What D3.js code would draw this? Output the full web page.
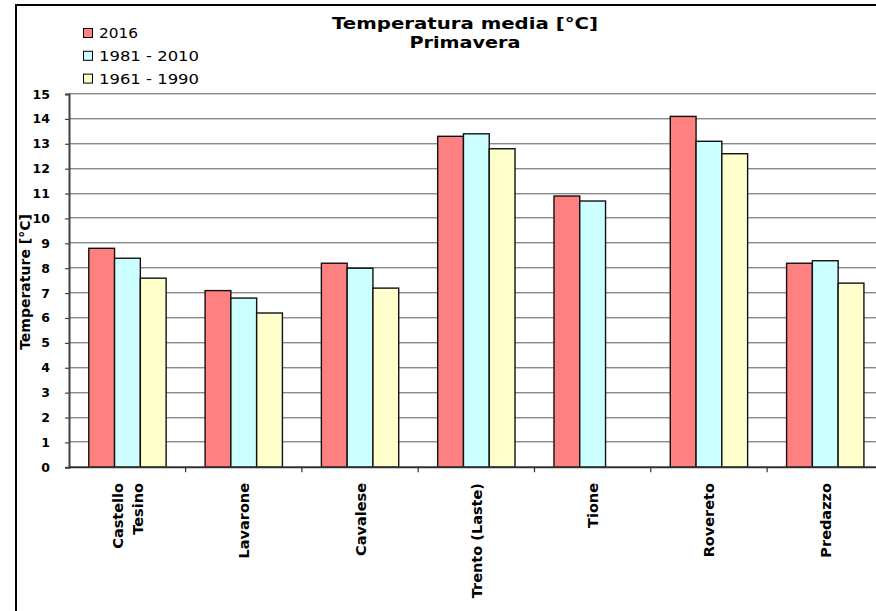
<!DOCTYPE html>
<html>
<head>
<meta charset="utf-8">
<script src="https://cdn.jsdelivr.net/npm/d3@7"></script>
<style>
  html, body { margin: 0; padding: 0; background: #fff; }
  svg { display: block; }
  text { font-family: "DejaVu Sans", Verdana, sans-serif; fill: #000; }
</style>
</head>
<body>
<svg id="chart" width="876" height="611"></svg>
<script>
// ---- data ----
const categories = ["Castello\nTesino", "Lavarone", "Cavalese", "Trento (Laste)", "Tione", "Rovereto", "Predazzo"];
const seriesNames = ["2016", "1981 - 2010", "1961 - 1990"];
const values2016 = [8.8, 7.1, 8.2, 13.3, 10.9, 14.1, 8.2];
const values8110 = [8.4, 6.8, 8.0, 13.4, 10.7, 13.1, 8.3];
const values6190 = [7.6, 6.2, 7.2, 12.8, null, 12.6, 7.4];
const yTicks = [0, 1, 2, 3, 4, 5, 6, 7, 8, 9, 10, 11, 12, 13, 14, 15];
const titleLines = ["Temperatura media [°C]", "Primavera"];
const yAxisTitle = "Temperature [°C]";

const colors = ["#FF8080", "#CCFFFF", "#FFFFCC"];
const seriesValues = [values2016, values8110, values6190];

const svg = d3.select("#chart");

// outer frame (cropped at right and bottom)
svg.append("rect").attr("x", 16).attr("y", 5).attr("width", 900).attr("height", 700)
  .attr("fill", "#fff").attr("stroke", "#000").attr("stroke-width", 2);

// scales
const x0 = d3.scaleBand().domain(categories).range([69.3, 883.4])
  .paddingInner(0.335).paddingOuter(0.1675);
const x1 = d3.scaleBand().domain(d3.range(seriesNames.length)).range([0, x0.bandwidth()]).padding(0);
const y = d3.scaleLinear().domain([0, 15]).range([467.3, 94]);

// gridlines
const grid = svg.append("g");
yTicks.filter(t => t > 0).forEach(t => {
  const yy = Math.round(y(t));
  grid.append("line").attr("x1", 69).attr("x2", 876).attr("y1", yy - 0.5).attr("y2", yy - 0.5)
    .attr("stroke", "#8a8a8a").attr("stroke-width", 1);
  grid.append("line").attr("x1", 69).attr("x2", 876).attr("y1", yy + 0.5).attr("y2", yy + 0.5)
    .attr("stroke", "#cfcfcf").attr("stroke-width", 1);
});

// bars
const groups = svg.append("g").selectAll("g").data(categories).join("g")
  .attr("transform", d => `translate(${x0(d)},0)`);
groups.selectAll("rect")
  .data((d, i) => seriesValues.map((s, k) => ({ k, v: s[i] })).filter(o => o.v != null))
  .join("rect")
  .attr("x", d => x1(d.k))
  .attr("width", x1.bandwidth())
  .attr("y", d => y(d.v))
  .attr("height", d => y(0) - y(d.v))
  .attr("fill", d => colors[d.k])
  .attr("stroke", "#111")
  .attr("stroke-width", 1.4);

// y axis
const yAxis = d3.axisLeft(y).tickValues(yTicks).tickSize(4).tickPadding(15).tickFormat(d3.format("d"));
const gy = svg.append("g").attr("transform", "translate(69,0)").call(yAxis);
gy.select(".domain").attr("stroke", "#404040").attr("stroke-width", 2);
gy.selectAll(".tick line").attr("stroke", "#404040").attr("stroke-width", 1.2);
gy.selectAll(".tick text").attr("font-family", "DejaVu Sans, sans-serif")
  .attr("font-size", "12.5px").attr("font-weight", "bold").attr("fill", "#000");

// x axis line and ticks at band boundaries
const step = x0.step();
const xStart = x0.range()[0];
svg.append("line").attr("x1", 69).attr("x2", 876).attr("y1", y(0)).attr("y2", y(0))
  .attr("stroke", "#303030").attr("stroke-width", 2);
d3.range(1, categories.length + 1).forEach(i => {
  const xx = xStart + i * step;
  svg.append("line").attr("x1", xx).attr("x2", xx).attr("y1", y(0)).attr("y2", y(0) + 5)
    .attr("stroke", "#303030").attr("stroke-width", 1.2);
});

// x labels (rotated)
categories.forEach(c => {
  const cx = x0(c) + x0.bandwidth() / 2;
  const lines = c.split("\n");
  const t = svg.append("text")
    .attr("transform", `translate(${cx},483) rotate(-90)`)
    .attr("text-anchor", "end")
    .attr("font-size", "14.5px").attr("font-weight", "bold");
  const lh = 19.3;
  lines.forEach((ln, i) => {
    t.append("tspan").attr("x", 0)
      .attr("y", 5.5 + (i - (lines.length - 1) / 2) * lh)
      .text(ln);
  });
});

// y axis title
svg.append("text")
  .attr("transform", "translate(30,282) rotate(-90)")
  .attr("text-anchor", "middle")
  .attr("font-size", "14px").attr("font-weight", "bold")
  .text(yAxisTitle);

// title
const titleBase = [29, 48.3];
const titleLen = [266, 111];
titleLines.forEach((ln, i) => {
  svg.append("text").attr("x", 465).attr("y", titleBase[i])
    .attr("text-anchor", "middle")
    .attr("font-size", "16px").attr("font-weight", "bold")
    .attr("textLength", titleLen[i]).attr("lengthAdjust", "spacingAndGlyphs")
    .text(ln);
});

// legend
const legendY = [33, 55.8, 78.6];
const legendLen = [39, 100, 100];
seriesNames.forEach((s, i) => {
  svg.append("rect").attr("x", 83.5).attr("y", legendY[i] - 4.5).attr("width", 9).attr("height", 9)
    .attr("fill", colors[i]).attr("stroke", "#000").attr("stroke-width", 1);
  svg.append("text").attr("x", 99).attr("y", legendY[i] + 5.3)
    .attr("font-size", "14.5px")
    .attr("textLength", legendLen[i]).attr("lengthAdjust", "spacingAndGlyphs")
    .text(s);
});
</script>
</body>
</html>
